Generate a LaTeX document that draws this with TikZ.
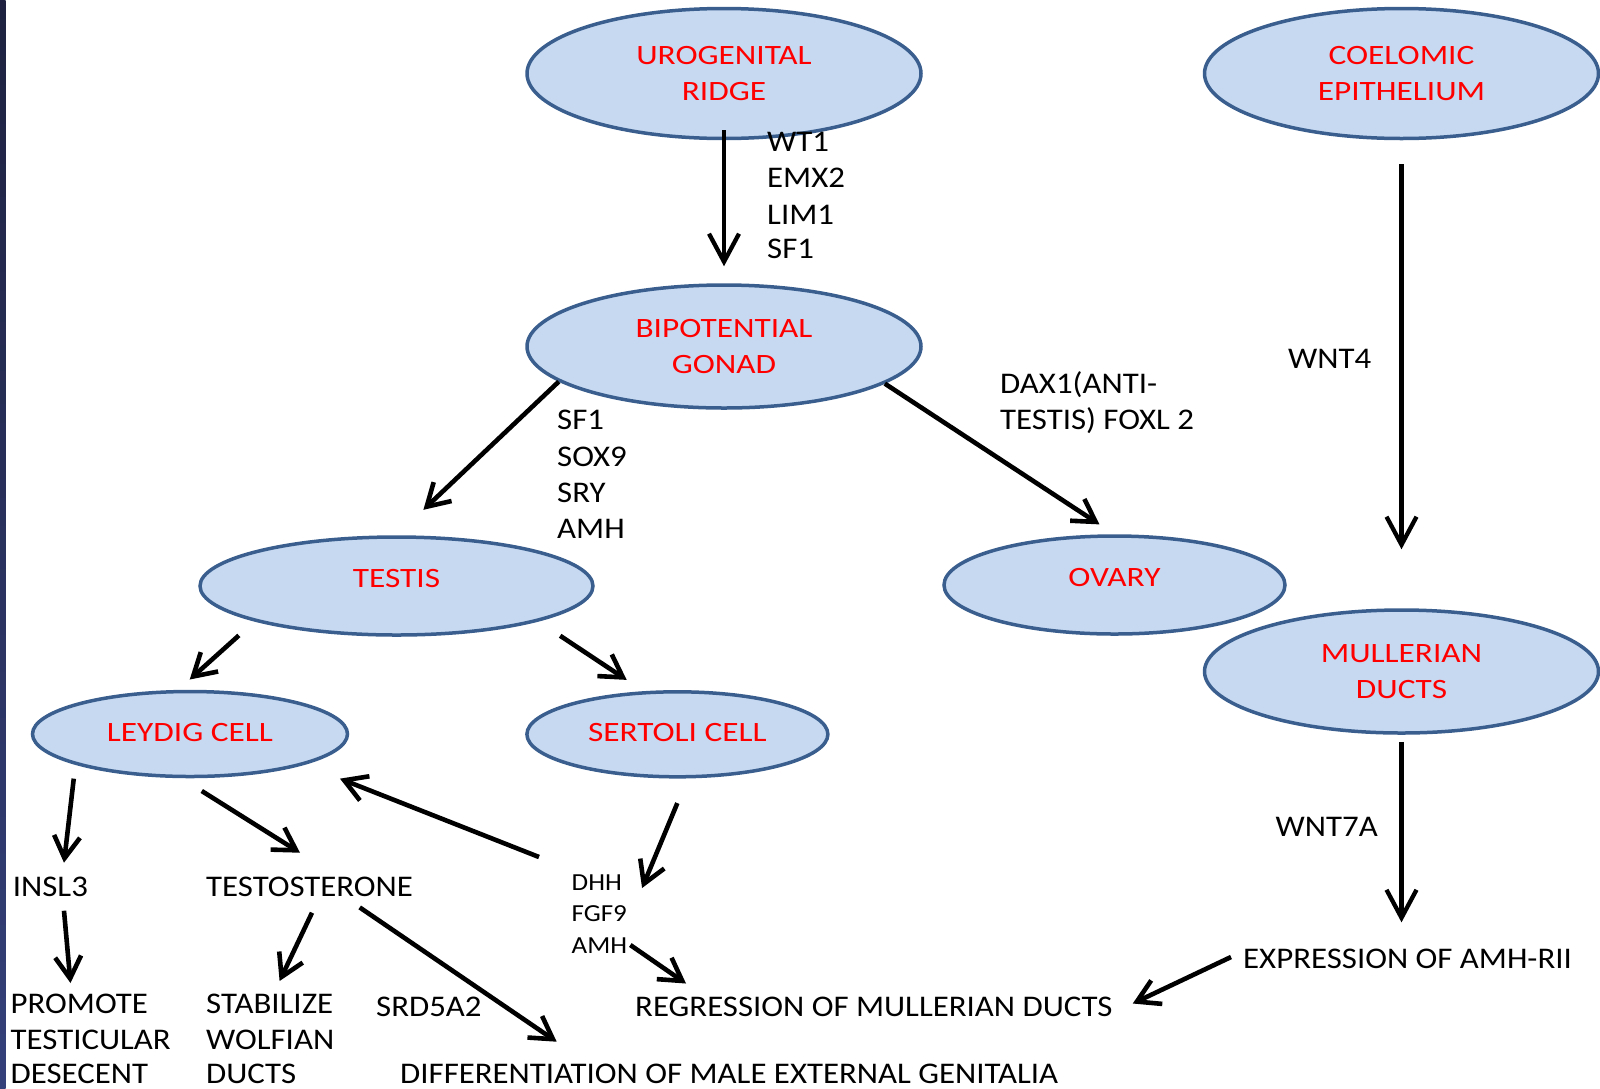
\documentclass[tikz,border=0pt]{standalone}
\usepackage{fontspec}
\setmainfont{Carlito}
\newfontfamily\redfont{Carlito}[FakeStretch=1.19]
\newfontfamily\blkfont{Carlito}[FakeStretch=1.095]
\newfontfamily\smlfont{Carlito}[FakeStretch=1.1]
\usetikzlibrary{shapes.geometric,arrows.meta,calc}
\definecolor{ellfill}{HTML}{C6D9F1}
\definecolor{elldraw}{HTML}{3A5F8E}
\definecolor{redtxt}{HTML}{FF0000}
\definecolor{bartop}{HTML}{1E2240}
\definecolor{barbot}{HTML}{34407A}
\begin{document}
\begin{tikzpicture}[x=1pt,y=-1pt,
  ell/.style={ellipse, draw=elldraw, fill=ellfill, line width=3.5pt, inner sep=0pt, align=center, text=redtxt, font={\redfont\fontsize{28}{35.7}\selectfont}},
  lbl/.style={inner sep=0pt, anchor=base west, font={\blkfont\fontsize{30}{36}\selectfont}},
  sml/.style={inner sep=0pt, anchor=base west, font={\smlfont\fontsize{24.5}{28}\selectfont}},
  arr/.style={line width=4.6pt, -{Straight Barb[length=22pt,width=26pt]}},
  bigarr/.style={line width=4.3pt, -{Straight Barb[length=28pt,width=30pt]}}]
\useasboundingbox (0,0) rectangle (1600,1088);
\shade[top color=bartop, bottom color=barbot] (0,0) rectangle (5.5,1088);

% ellipses
\node[ell, minimum width=394pt, minimum height=130pt] (uro) at (724,73.5) {UROGENITAL\\RIDGE};
\node[ell, minimum width=394pt, minimum height=130pt] (coe) at (1401.5,73.5) {COELOMIC\\EPITHELIUM};
\node[ell, minimum width=394pt, minimum height=123pt] (bip) at (724,346.5) {BIPOTENTIAL\\GONAD};
\node[ell, minimum width=393pt, minimum height=98pt, text depth=16pt] (testis) at (396.5,586) {TESTIS};
\node[ell, minimum width=341pt, minimum height=98pt, text depth=16pt] (ovary) at (1114.5,585) {OVARY};
\node[ell, minimum width=394pt, minimum height=123pt] (mul) at (1401.5,671.5) {MULLERIAN\\DUCTS};
\node[ell, minimum width=315pt, minimum height=85pt, text depth=4pt] (leydig) at (190,734) {LEYDIG CELL};
\node[ell, minimum width=301pt, minimum height=85pt, text depth=4pt] (sertoli) at (677.4,734.3) {SERTOLI CELL};

% labels
\node[lbl] (wt1) at (767,151.7) {WT1};
\node[lbl] (emx2) at (767,187.7) {EMX2};
\node[lbl] (lim1) at (767,224) {LIM1};
\node[lbl] (sf1a) at (767,258.3) {SF1};
\node[lbl] (sf1b) at (557,429) {SF1};
\node[lbl] (sox9) at (557,466) {SOX9};
\node[lbl] (sry) at (557,502.5) {SRY};
\node[lbl] (amhb) at (557,538) {AMH};
\node[lbl] (dax1) at (1000,393.5) {DAX1(ANTI-};
\node[lbl] (testisf) at (1000,429) {TESTIS) FOXL 2};
\node[lbl] (wnt4) at (1288,368) {WNT4};
\node[lbl] (wnt7a) at (1275.5,836.5) {WNT7A};
\node[lbl] (insl) at (12.7,896.7) {INSL3};
\node[lbl] (testo) at (206,896.7) {TESTOSTERONE};
\node[sml] (dhh) at (571.5,890) {DHH};
\node[sml] (fgf9) at (571.5,921.7) {FGF9};
\node[sml] (amh) at (571.5,953) {AMH};
\node[lbl] (promote) at (10.5,1013) {PROMOTE};
\node[lbl] (testic) at (10.5,1049.5) {TESTICULAR};
\node[lbl] (desc) at (10.5,1083) {DESECENT};
\node[lbl] (stab) at (206,1013) {STABILIZE};
\node[lbl] (wolf) at (206,1049.5) {WOLFIAN};
\node[lbl] (ducts) at (206,1083) {DUCTS};
\node[lbl] (srd) at (376,1016.5) {SRD5A2};
\node[lbl] (regr) at (635,1016.5) {REGRESSION OF MULLERIAN DUCTS};
\node[lbl] (diff) at (400,1083) {DIFFERENTIATION OF MALE EXTERNAL GENITALIA};
\node[lbl] (expr) at (1243,968) {EXPRESSION OF AMH-RII};

% connectors
\draw[bigarr, shorten <=-10pt, shorten >=17pt] (uro.south) -- (bip.north);
\draw[bigarr, shorten <=24pt, shorten >=59pt] (coe.south) -- (mul.north);
\draw[bigarr, shorten <=7pt, shorten >=26pt] (mul.south) -- (mul.south |- expr.north);
\draw[arr, shorten >=37pt] (bip.192.6) -- (testis.north);
\draw[arr, shorten >=18pt] (bip.-13.7) -- (ovary.north);
\draw[arr, shorten <=21pt, shorten >=15.5pt] (testis.194.6) -- (leydig.105.7);
\draw[arr, shorten <=26pt, shorten >=20.4pt] (testis.-14.4) -- (sertoli.128.7);
\draw[arr, shorten <=14pt] (leydig.195.3) -- ($(insl.base west)+(51.3,-34)$);
\draw[arr, shorten <=24pt] (leydig.259) -- ($(testo.base west)+(94,-44)$);
\draw[arr, shorten >=38pt] ($(dhh.base west)+(-32.5,-33)$) -- (leydig.-15.8);
\draw[arr, shorten <=26.7pt] (sertoli.-77.4) -- ($(dhh.base east)+(20,-2)$);
\draw[arr] ($(insl.base west)+(51.3,14)$) -- ($(promote.base west)+(60,-30)$);
\draw[arr] ($(testo.base west)+(106,16)$) -- ($(stab.base west)+(73.6,-32)$);
\draw[arr] ($(testo.base west)+(153.7,10.7)$) -- ($(diff.base west)+(156.7,-41.3)$);
\draw[arr] ($(amh.base east)+(3,-8)$) -- ($(regr.base west)+(51,-33)$);
\draw[arr] ($(expr.base west)+(-12,-11)$) -- ($(regr.base east)+(20,-13)$);
\end{tikzpicture}
\end{document}
